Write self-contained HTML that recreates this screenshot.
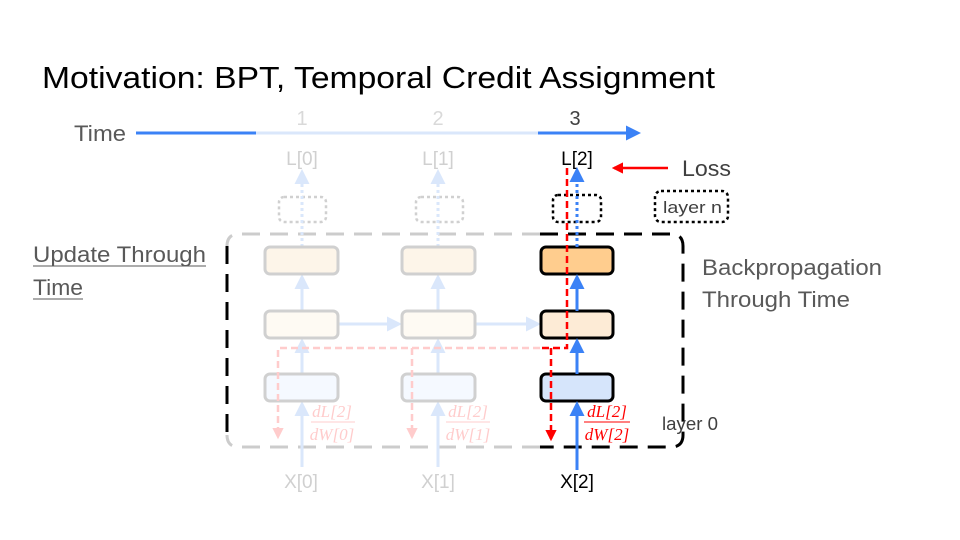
<!DOCTYPE html>
<html><head><meta charset="utf-8"><style>
body{margin:0;background:#fff}
svg{display:block;font-family:"Liberation Sans",sans-serif}
.fr{font-family:"Liberation Serif",serif;font-style:italic}
</style></head><body>
<svg width="960" height="540" viewBox="0 0 960 540">
<defs>
<marker id="ab" viewBox="0 0 10 10" refX="8" refY="5" markerWidth="5" markerHeight="5" orient="auto"><path d="M0,0L10,5L0,10z" fill="#3b82f6"/></marker>
<marker id="al" viewBox="0 0 10 10" refX="8" refY="5" markerWidth="5" markerHeight="5" orient="auto"><path d="M0,0L10,5L0,10z" fill="#dae7fb"/></marker>
<marker id="ar" viewBox="0 0 10 10" refX="8" refY="5" markerWidth="4.5" markerHeight="4.5" orient="auto"><path d="M0,0L10,5L0,10z" fill="#ff0000"/></marker>
<marker id="ap" viewBox="0 0 10 10" refX="8" refY="5" markerWidth="4.5" markerHeight="4.5" orient="auto"><path d="M0,0L10,5L0,10z" fill="#ffcccc"/></marker>
</defs>
<text x="42" y="88" font-size="31" fill="#000" textLength="673" lengthAdjust="spacingAndGlyphs">Motivation: BPT, Temporal Credit Assignment</text>
<text x="74" y="141" font-size="22" fill="#595959" textLength="52" lengthAdjust="spacingAndGlyphs">Time</text>
<line x1="136" y1="133" x2="256" y2="133" stroke="#3b82f6" stroke-width="3"/>
<line x1="256" y1="133" x2="538" y2="133" stroke="#dae7fb" stroke-width="3"/>
<line x1="538" y1="133" x2="638" y2="133" stroke="#3b82f6" stroke-width="3" marker-end="url(#ab)"/>
<g font-size="20" text-anchor="middle">
<text x="302" y="125" fill="#d9d9d9">1</text><text x="438" y="125" fill="#d9d9d9">2</text><text x="575" y="125" fill="#404040">3</text>
<text x="302" y="165" font-size="19" fill="#d0d0d0">L[0]</text><text x="438" y="165" font-size="19" fill="#d0d0d0">L[1]</text><text x="577" y="165" font-size="19" fill="#000">L[2]</text>
<text x="301" y="488" font-size="19" fill="#d0d0d0">X[0]</text><text x="438" y="488" font-size="19" fill="#d0d0d0">X[1]</text><text x="577" y="488" font-size="19" fill="#000">X[2]</text>
</g>
<path d="M540,234 H239 Q227,234 227,246" fill="none" stroke="#cccccc" stroke-width="3" stroke-dasharray="18,10"/>
<path d="M540,447 H239 Q227,447 227,435" fill="none" stroke="#cccccc" stroke-width="3" stroke-dasharray="18,10"/>
<path d="M227,246 V435" fill="none" stroke="#000" stroke-width="3" stroke-dasharray="18,10"/>
<path d="M540,234 H671 Q683,234 683,246 V435 Q683,447 671,447 H540" fill="none" stroke="#000" stroke-width="3" stroke-dasharray="18,10"/>
<rect x="279" y="197" width="47" height="25" rx="5" fill="none" stroke="#d0d0d0" stroke-width="2.5" stroke-dasharray="3,3"/>
<rect x="416" y="197" width="47" height="25" rx="5" fill="none" stroke="#d0d0d0" stroke-width="2.5" stroke-dasharray="3,3"/>
<rect x="553" y="195" width="48" height="27" rx="5" fill="none" stroke="#000" stroke-width="2.5" stroke-dasharray="3,3"/>
<rect x="655" y="191" width="73" height="31" rx="6" fill="none" stroke="#000" stroke-width="2.5" stroke-dasharray="3,3"/>
<text x="663" y="213" font-size="17" fill="#404040" textLength="59" lengthAdjust="spacingAndGlyphs">layer n</text>
<g stroke="#dae7fb" stroke-width="3" marker-end="url(#al)">
<line x1="302" y1="247" x2="302" y2="172" stroke-dasharray="3,3"/>
<line x1="438" y1="247" x2="438" y2="172" stroke-dasharray="3,3"/>
<line x1="302" y1="311" x2="302" y2="277"/><line x1="438" y1="311" x2="438" y2="277"/>
<line x1="302" y1="374" x2="302" y2="341"/><line x1="438" y1="374" x2="438" y2="341"/>
<line x1="302" y1="467" x2="302" y2="404"/><line x1="438" y1="467" x2="438" y2="404"/>
<line x1="338" y1="324" x2="399" y2="324"/><line x1="475" y1="324" x2="538" y2="324"/>
</g>
<g stroke-width="3">
<rect x="265" y="247" width="73" height="27" rx="5" fill="#fdf5e9" stroke="#d0d0d0"/>
<rect x="402" y="247" width="73" height="27" rx="5" fill="#fdf5e9" stroke="#d0d0d0"/>
<rect x="541" y="247" width="72" height="27" rx="5" fill="#ffcd8e" stroke="#000"/>
<rect x="265" y="311" width="73" height="27" rx="5" fill="#fefaf3" stroke="#d0d0d0"/>
<rect x="402" y="311" width="73" height="27" rx="5" fill="#fefaf3" stroke="#d0d0d0"/>
<rect x="541" y="311" width="72" height="27" rx="5" fill="#fdebd6" stroke="#000"/>
<rect x="265" y="374" width="73" height="27" rx="5" fill="#f5f9ff" stroke="#d0d0d0"/>
<rect x="402" y="374" width="73" height="27" rx="5" fill="#f5f9ff" stroke="#d0d0d0"/>
<rect x="541" y="374" width="72" height="27" rx="5" fill="#d6e5fb" stroke="#000"/>
</g>
<g stroke="#3b82f6" stroke-width="3" marker-end="url(#ab)">
<line x1="577" y1="247" x2="577" y2="170" stroke-dasharray="3,3"/>
<line x1="577" y1="311" x2="577" y2="277"/>
<line x1="577" y1="374" x2="577" y2="341"/>
<line x1="577" y1="470" x2="577" y2="404"/>
</g>
<path d="M540,348 H278 V437" fill="none" stroke="#ffcccc" stroke-width="2.5" stroke-dasharray="7,4" marker-end="url(#ap)"/>
<path d="M412,348 V437" fill="none" stroke="#ffcccc" stroke-width="2.5" stroke-dasharray="7,4" marker-end="url(#ap)"/>
<path d="M567,168 V348 H540" fill="none" stroke="#ff0000" stroke-width="2.5" stroke-dasharray="7,4"/>
<path d="M551,348 V439" fill="none" stroke="#ff0000" stroke-width="2.5" stroke-dasharray="7,4" marker-end="url(#ar)"/>
<line x1="668" y1="168" x2="614" y2="168" stroke="#ff0000" stroke-width="2.5" marker-end="url(#ar)"/>
<text x="682" y="176" font-size="22" fill="#404040" textLength="49" lengthAdjust="spacingAndGlyphs">Loss</text>
<g class="fr" font-size="17" text-anchor="middle">
<text x="332" y="417" fill="#ffcccc">dL[2]</text><line x1="311" y1="422" x2="355" y2="422" stroke="#ffcccc"/><text x="332" y="440" fill="#ffcccc">dW[0]</text>
<text x="468" y="417" fill="#ffcccc">dL[2]</text><line x1="446" y1="422" x2="490" y2="422" stroke="#ffcccc"/><text x="468" y="440" fill="#ffcccc">dW[1]</text>
<text x="607" y="417" fill="#ff0000">dL[2]</text><line x1="584" y1="422" x2="630" y2="422" stroke="#ff0000"/><text x="607" y="440" fill="#ff0000">dW[2]</text>
</g>
<g font-size="22" fill="#595959">
<text x="33" y="262" textLength="173" lengthAdjust="spacingAndGlyphs">Update Through</text><line x1="33" y1="266" x2="206" y2="266" stroke="#595959"/>
<text x="33" y="295" textLength="50" lengthAdjust="spacingAndGlyphs">Time</text><line x1="33" y1="299" x2="83" y2="299" stroke="#595959"/>
<text x="702" y="275" textLength="180" lengthAdjust="spacingAndGlyphs">Backpropagation</text>
<text x="702" y="307" textLength="148" lengthAdjust="spacingAndGlyphs">Through Time</text>
</g>
<text x="662" y="430" font-size="18" fill="#404040" textLength="56" lengthAdjust="spacingAndGlyphs">layer 0</text>
</svg>
</body></html>
